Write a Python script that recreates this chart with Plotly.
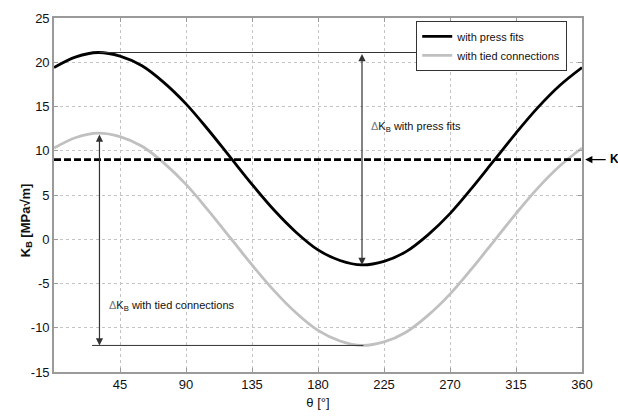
import plotly.graph_objects as go

# ---- data ----
theta = [0, 15, 30, 45, 60, 75, 90, 105, 120, 135, 150, 165, 180,
         195, 210, 225, 240, 255, 270, 285, 300, 315, 330, 345, 360]
k_press = [19.4, 20.6, 21.1, 20.7, 19.6, 17.7, 15.3, 12.4, 9.3, 6.2, 3.3, 0.8, -1.2,
           -2.4, -2.9, -2.5, -1.4, 0.5, 2.9, 5.8, 8.9, 12.0, 14.9, 17.4, 19.4]
k_tied = [10.3, 11.5, 12.0, 11.6, 10.5, 8.6, 6.2, 3.3, 0.2, -2.9, -5.8, -8.3, -10.3,
          -11.5, -12.0, -11.6, -10.5, -8.6, -6.2, -3.3, -0.2, 2.9, 5.8, 8.3, 10.3]
k_limit = 9.0
x_ticks = [45, 90, 135, 180, 225, 270, 315, 360]
y_ticks = [-15, -10, -5, 0, 5, 10, 15, 20, 25]
series_names = ["with press fits", "with tied connections"]

FONT = "Liberation Sans, Arial, sans-serif"

fig = go.Figure()
fig.add_trace(go.Scatter(x=theta, y=k_press, mode="lines", name=series_names[0],
                         line=dict(color="#000000", width=2.8, shape="spline")))
fig.add_trace(go.Scatter(x=theta, y=k_tied, mode="lines", name=series_names[1],
                         line=dict(color="#c0c0c0", width=2.8, shape="spline")))
fig.add_trace(go.Scatter(x=[0, 360], y=[k_limit, k_limit], mode="lines", showlegend=False,
                         line=dict(color="#000000", width=2.6, dash="7px,3px")))

# delta markers derived from data
p_max = max(k_press); p_min = min(k_press)
t_max = max(k_tied); t_min = min(k_tied)
p_min_theta = theta[k_press.index(p_min)]
t_max_theta = theta[k_tied.index(t_max)]

line_col = "#333333"
fig.add_shape(type="line", xref="x", yref="y", x0=31, x1=255, y0=p_max, y1=p_max,
              line=dict(color=line_col, width=1))
fig.add_shape(type="line", xref="x", yref="y", x0=26, x1=211, y0=t_min, y1=t_min,
              line=dict(color=line_col, width=1))

ann = []
ann.append(dict(x=p_min_theta, y=p_min, ax=p_min_theta, ay=p_max, xref="x", yref="y",
                axref="x", ayref="y", text="", showarrow=True, arrowhead=2, arrowside="end+start",
                arrowsize=1.2, arrowwidth=1.2, arrowcolor=line_col, standoff=0, startstandoff=0))
ann.append(dict(x=31, y=t_min, ax=31, ay=t_max, xref="x", yref="y",
                axref="x", ayref="y", text="", showarrow=True, arrowhead=2, arrowside="end+start",
                arrowsize=1.2, arrowwidth=1.2, arrowcolor=line_col, standoff=0, startstandoff=0))
ann.append(dict(x=215, y=12.7, xref="x", yref="y", xanchor="left", yanchor="middle",
                text="<span style='color:#777'>Δ</span>K<sub>B</sub> with press fits",
                showarrow=False, font=dict(size=11, color="#111", family=FONT)))
ann.append(dict(x=36, y=-7.5, xref="x", yref="y", xanchor="left", yanchor="middle",
                text="<span style='color:#777'>Δ</span>K<sub>B</sub> with tied connections",
                showarrow=False, font=dict(size=11, color="#111", family=FONT)))
# K_I arrow on the right
ann.append(dict(x=1.006, y=k_limit, xref="paper", yref="y", ax=22, ay=0, text="",
                showarrow=True, arrowhead=2, arrowsize=1.2, arrowwidth=1.2, arrowcolor="#000"))
ann.append(dict(x=1.05, y=k_limit, xref="paper", yref="y", xanchor="left", yanchor="middle",
                text="<b>K<sub>I</sub></b>", showarrow=False,
                font=dict(size=12, color="#000", family=FONT)))
# y-axis title
ann.append(dict(x=-0.072, y=0.43, xref="paper", yref="paper", textangle=-90,
                text="<b>K<sub>B</sub> [MPa√m]</b>", showarrow=False,
                font=dict(size=13, color="#111", family=FONT)))

axis_common = dict(showline=True, linecolor="#9a9a9a", linewidth=1.6, mirror="ticks",
                   ticks="inside", ticklen=4, tickcolor="#9a9a9a",
                   showgrid=True, gridcolor="#c4c4c4", gridwidth=1, griddash="dot",
                   zeroline=False, tickfont=dict(size=13, color="#111", family=FONT))

fig.update_layout(
    width=618, height=419, autosize=False,
    margin=dict(l=54, r=36, t=11, b=46),
    paper_bgcolor="white", plot_bgcolor="white",
    font=dict(family=FONT, size=11, color="#111"),
    xaxis=dict(range=[0, 360], tickvals=x_ticks, ticktext=[str(v) for v in x_ticks],
               title=dict(text="θ [°]", font=dict(size=13, family=FONT), standoff=6),
               **axis_common),
    yaxis=dict(range=[-15, 25], tickvals=y_ticks, ticktext=[str(v) for v in y_ticks],
               **axis_common),
    legend=dict(x=0.686, y=0.992, xanchor="left", yanchor="top",
                bgcolor="white", bordercolor="#333", borderwidth=1,
                font=dict(size=11, family=FONT, color="#111"),
                itemwidth=30, tracegroupgap=0),
    annotations=ann,
    showlegend=True,
)

fig.write_html("out.html")
